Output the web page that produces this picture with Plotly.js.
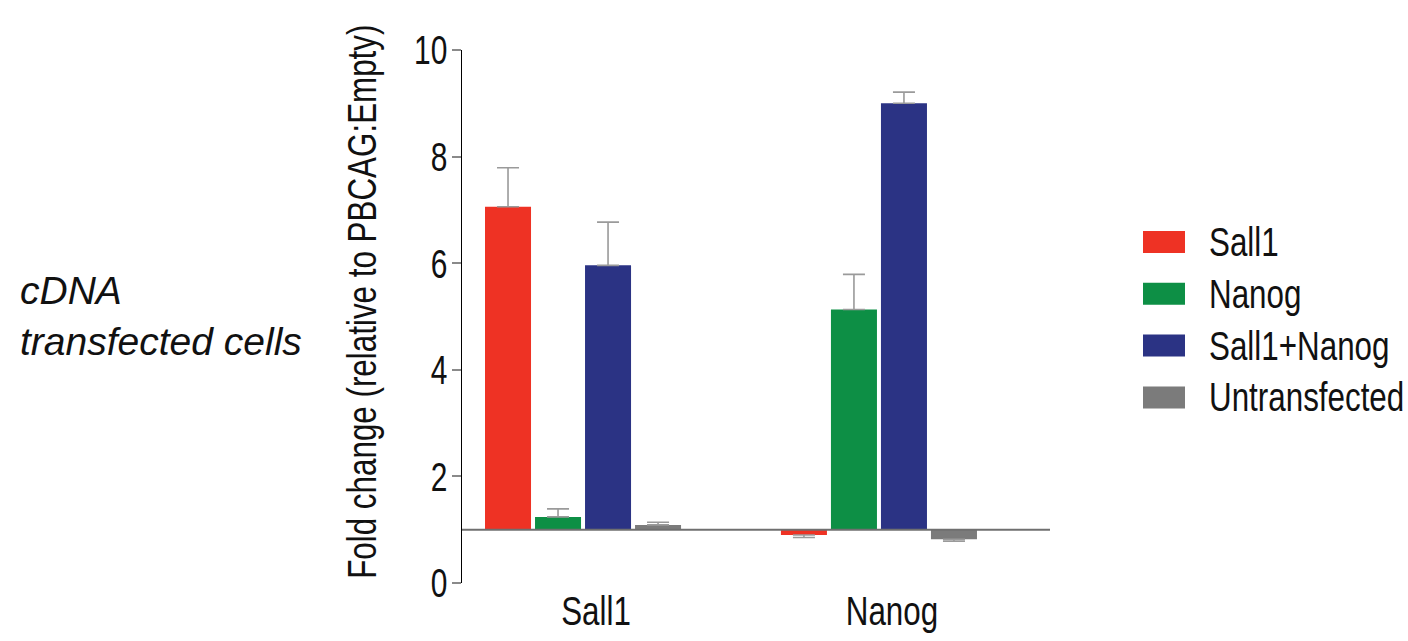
<!DOCTYPE html>
<html>
<head>
<meta charset="utf-8">
<script src="https://cdn.plot.ly/plotly-3.0.1.min.js"></script>
<style>
  html, body { margin: 0; padding: 0; background: #fff; }
  #chart { width: 1408px; height: 641px; }
</style>
</head>
<body>
<div id="chart"></div>
<script>
// ---- data ----
const categories = ['Sall1', 'Nanog'];
const seriesNames = ['Sall1', 'Nanog', 'Sall1+Nanog', 'Untransfected'];
const sall1Values = [7.06, 0.90];
const sall1Errors = [0.73, 0.045];
const nanogValues = [1.24, 5.13];
const nanogErrors = [0.15, 0.66];
const comboValues = [5.96, 9.00];
const comboErrors = [0.81, 0.21];
const untransValues = [1.09, 0.82];
const untransErrors = [0.05, 0.035];
const baselineValue = 1;
const yTickValues = [0, 2, 4, 6, 8, 10];
const yTitleText = 'Fold change (relative to PBCAG:Empty)';
const sideNote = '<i>cDNA<br>transfected cells</i>';

// ---- style ----
const colors = ['#EE3224', '#0D8F45', '#2B3384', '#7B7B7B'];
const mainFont = '"Liberation Sans", Arial, Helvetica, sans-serif';
const textColor = '#111111';
const fontSize = 41;
const condenseFactor = 0.765;
const tickCondense = 0.73;

const allValues = [sall1Values, nanogValues, comboValues, untransValues];
const allErrors = [sall1Errors, nanogErrors, comboErrors, untransErrors];

const traces = allValues.map((vals, i) => {
  const errs = allErrors[i];
  return {
    type: 'bar',
    name: seriesNames[i],
    x: categories,
    y: vals.map(v => v - baselineValue),
    base: vals.map(() => baselineValue),
    marker: { color: colors[i], line: { width: 0 } },
    error_y: {
      type: 'data',
      symmetric: false,
      array: vals.map((v, j) => (v >= baselineValue ? errs[j] : 0)),
      arrayminus: vals.map((v, j) => (v < baselineValue ? errs[j] : 0)),
      color: '#9a9a9a',
      thickness: 1.6,
      width: 11
    },
    showlegend: false,
    hoverinfo: 'skip'
  };
});

// custom legend (large swatches) and texts
const plotTop = 50, plotBottom = 583, plotLeft = 462, plotRight = 1050;
const ph = plotBottom - plotTop, pw = plotRight - plotLeft;
const px2x = p => (p - plotLeft) / pw;
const px2y = p => (plotBottom - p) / ph;
const legendRowY0 = 242, legendRowStep = 51.8;
const shapes = [
  {
    type: 'line', xref: 'paper', yref: 'y',
    x0: 0, x1: 1, y0: baselineValue, y1: baselineValue,
    line: { color: '#6f6f6f', width: 2 }
  }
];
const annotations = [
  {
    xref: 'paper', yref: 'paper',
    x: px2x(18), y: px2y(316),
    xanchor: 'left', yanchor: 'middle', align: 'left',
    text: sideNote,
    showarrow: false,
    font: { family: mainFont, size: 39, color: textColor }
  },
  {
    xref: 'paper', yref: 'paper',
    x: px2x(337), y: px2y(302),
    xanchor: 'left', yanchor: 'middle',
    textangle: -90,
    text: yTitleText,
    showarrow: false,
    font: { family: mainFont, size: fontSize, color: textColor }
  }
];
seriesNames.forEach((name, i) => {
  const cy = legendRowY0 + i * legendRowStep;
  shapes.push({
    type: 'rect', xref: 'paper', yref: 'paper',
    x0: px2x(1143), x1: px2x(1185),
    y0: px2y(cy - 11), y1: px2y(cy + 11),
    fillcolor: colors[i], line: { width: 0 }
  });
  annotations.push({
    xref: 'paper', yref: 'paper',
    x: px2x(1207), y: px2y(cy),
    xanchor: 'left', yanchor: 'middle',
    text: name, showarrow: false,
    font: { family: mainFont, size: fontSize, color: textColor }
  });
});

const layout = {
  width: 1408, height: 641,
  margin: { l: plotLeft, r: 1408 - plotRight, t: plotTop, b: 641 - plotBottom, pad: 0 },
  paper_bgcolor: '#ffffff', plot_bgcolor: '#ffffff',
  font: { family: mainFont, size: fontSize, color: textColor },
  barmode: 'group',
  bargap: 0.324,
  bargroupgap: 0.08,
  showlegend: false,
  xaxis: {
    type: 'category',
    range: [-0.409, 1.578],
    showline: false, showgrid: false, zeroline: false,
    ticks: '', ticklen: 0,
    tickfont: { family: mainFont, size: fontSize, color: textColor }
  },
  yaxis: {
    range: [0, 10],
    tickvals: yTickValues,
    ticktext: yTickValues.map(String),
    showline: true, linecolor: '#000000', linewidth: 1.5,
    showgrid: false, zeroline: false,
    ticks: 'outside', ticklen: 9, tickwidth: 2, tickcolor: '#8a8a8a',
    tickfont: { family: mainFont, size: fontSize, color: textColor }
  },
  shapes: shapes,
  annotations: annotations
};

// condense text horizontally (reference uses a condensed sans face)
function condense(el, s, pivot, dx, dy) {
  const bb = el.getBBox();
  const px = pivot === 'start' ? bb.x : pivot === 'end' ? bb.x + bb.width : bb.x + bb.width / 2;
  const py = bb.y + bb.height / 2;
  const t = el.getAttribute('transform') || '';
  el.setAttribute('transform', t + ' translate(' + (px + (dx || 0)) + ',' + (py + (dy || 0)) + ') scale(' + s + ',1) translate(' + (-px) + ',' + (-py) + ')');
}

Plotly.newPlot('chart', traces, layout, { displayModeBar: false, staticPlot: true }).then(gd => {
  gd.querySelectorAll('.ytick text').forEach(el => condense(el, tickCondense, 'end', 4, 0));
  gd.querySelectorAll('.xtick text').forEach(el => condense(el, condenseFactor, 'middle', 13, 0));
  gd.querySelectorAll('g.annotation[data-index="1"] text.annotation-text')
    .forEach(el => condense(el, condenseFactor, 'middle', 0, 0));
  for (let i = 2; i < 2 + seriesNames.length; i++) {
    gd.querySelectorAll('g.annotation[data-index="' + i + '"] text.annotation-text')
      .forEach(el => condense(el, condenseFactor, 'start', 0, 0));
  }
});
</script>
</body>
</html>
